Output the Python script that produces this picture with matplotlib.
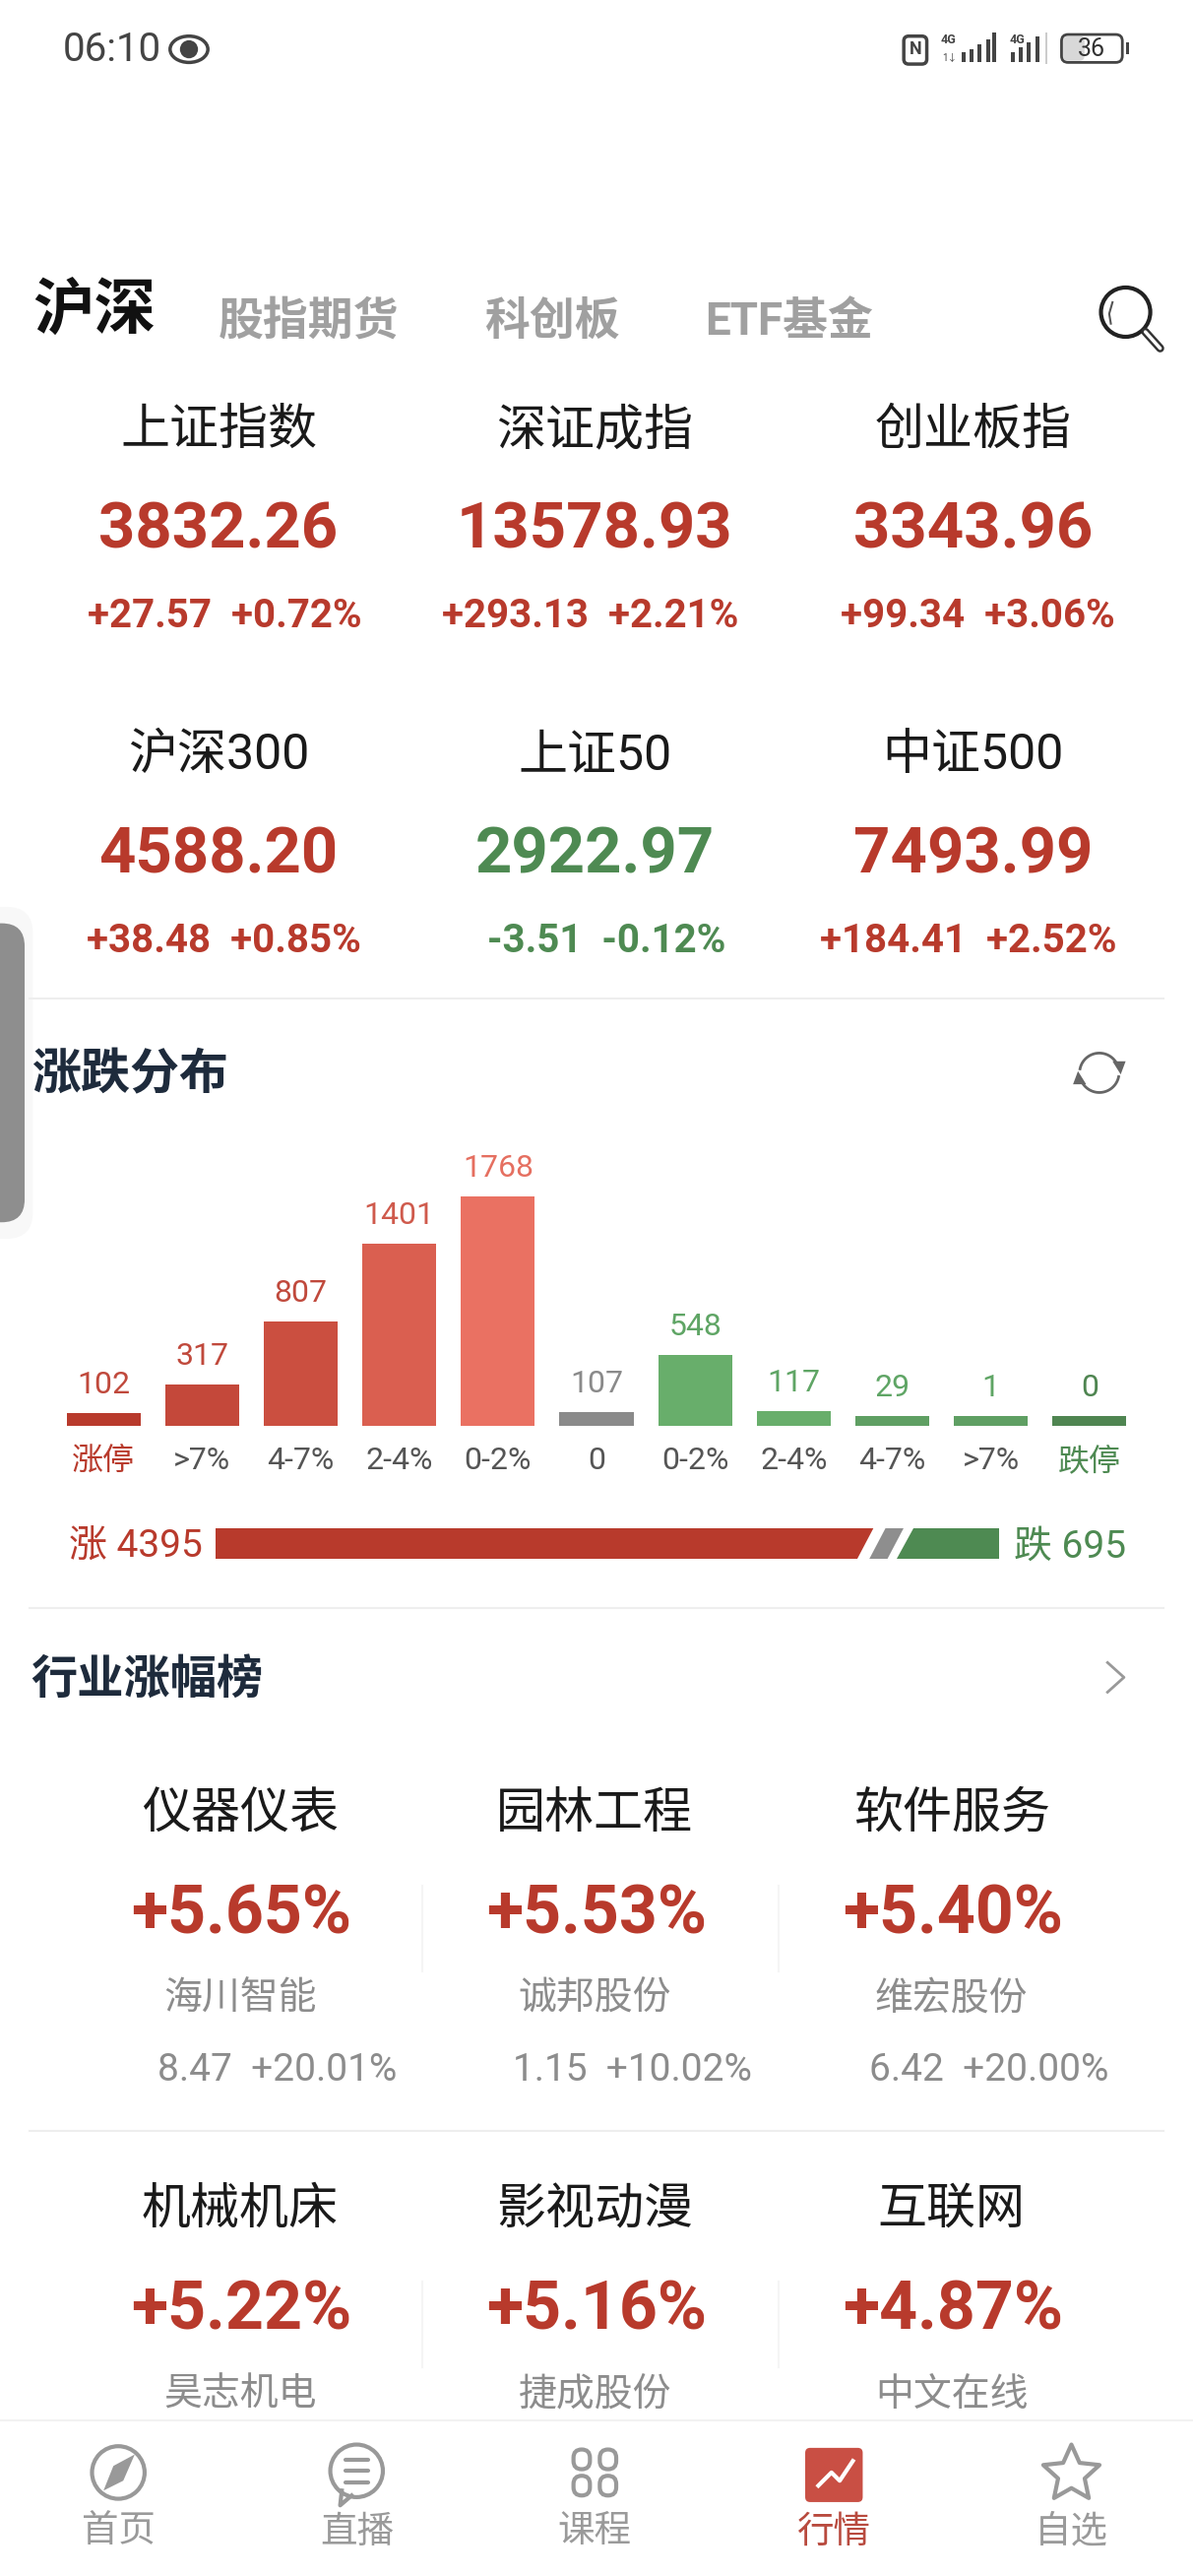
import numpy as np
import matplotlib
matplotlib.use('Agg')
import matplotlib.pyplot as plt
from matplotlib.patches import Circle, FancyBboxPatch, Polygon, Rectangle, Ellipse

plt.rcParams['font.family'] = ['Roboto', 'Noto Sans CJK SC', 'DejaVu Sans']

tabs = ['股指期货', '科创板', 'ETF基金']
index_names = ['上证指数', '深证成指', '创业板指', '沪深300', '上证50', '中证500']
index_vals = ['3832.26', '13578.93', '3343.96', '4588.20', '2922.97', '7493.99']
index_chg = ['+27.57', '+293.13', '+99.34', '+38.48', '-3.51', '+184.41']
index_pct = ['+0.72%', '+2.21%', '+3.06%', '+0.85%', '-0.12%', '+2.52%']

bar_vals = [102, 317, 807, 1401, 1768, 107, 548, 117, 29, 1, 0]
bar_cats = ['涨停', '>7%', '4-7%', '2-4%', '0-2%', '0', '0-2%', '2-4%', '4-7%', '>7%', '跌停']
rise_total = 4395
flat_total = 107
fall_total = 695

sector_names = ['仪器仪表', '园林工程', '软件服务', '机械机床', '影视动漫', '互联网']
sector_pct = ['+5.65%', '+5.53%', '+5.40%', '+5.22%', '+5.16%', '+4.87%']
stock_names = ['海川智能', '诚邦股份', '维宏股份', '昊志机电', '捷成股份', '中文在线']
stock_price = ['8.47', '1.15', '6.42']
stock_pct = ['+20.01%', '+10.02%', '+20.00%']

nav_names = ['首页', '直播', '课程', '行情', '自选']

RED = '#B83A2C'
GREEN = '#4E8A52'
GREY = '#999999'
NAVY = '#1E2B3C'
bar_colors = ['#B83A2C', '#C4483A', '#CB4F40', '#DA5F50', '#EA7162', '#8A8A8A',
              '#68AE6B', '#68AE6B', '#5F9F63', '#5F9F63', '#4F8551']
label_colors = ['#C0493C', '#C0493C', '#C0493C', '#CF5A4C', '#E56F60', '#8A8A8A',
                '#5FA565', '#5FA565', '#5FA565', '#5FA565', '#4F8551']
cat_colors = ['#B83A2C'] + ['#555555'] * 9 + ['#4E8A52']

# layout units: the screen is 726 wide, 1568 high
W, H = 726, 1568
fig = plt.figure(figsize=(12.12, 26.16), dpi=100, facecolor='white')
ax = fig.add_axes([0, 0, 1, 1])
ax.set_xlim(0, W)
ax.set_ylim(H, 0)
ax.axis('off')


def txt(x, y, s, size, color='#1A1A1A', ha='center', weight='normal'):
    # text below the status bar sits a little low in its line box
    if y > 100:
        y = y + 5
    ax.text(x, y, s, fontsize=size, color=color, ha=ha, va='center', fontweight=weight)


# side handle
ax.add_patch(FancyBboxPatch((-30, 552), 50, 202, boxstyle='round,pad=0,rounding_size=16',
                            fc='#F8F8F8', ec='none'))
ax.add_patch(FancyBboxPatch((-30, 562), 45, 182, boxstyle='round,pad=0,rounding_size=14',
                            fc='#8E8E8E', ec='none'))

# status bar
txt(38, 30, '06:10', 29, '#444444', ha='left')
ax.add_patch(Ellipse((115, 30), 23, 16, fc='none', ec='#444444', lw=2.5))
ax.add_patch(Circle((115, 30), 5.5, fc='#444444', ec='none'))
ax.add_patch(FancyBboxPatch((550, 22), 14, 17, boxstyle='round,pad=0,rounding_size=3',
                            fc='none', ec='#444444', lw=2.5))
txt(557, 30, 'N', 13, '#444444', weight='bold')
txt(577, 24, '4G', 9, '#444444', weight='bold')
txt(578, 35, '1↓', 7, '#444444')
for x0, h0 in zip([585, 590, 595, 600, 604], [6, 8, 11, 14, 18]):
    ax.add_patch(Rectangle((x0, 38 - h0), 2.4, h0, fc='#444444', ec='none'))
txt(619, 24, '4G', 9, '#444444', weight='bold')
for x0, h0 in zip([615, 620, 625, 630], [6, 9, 12, 16]):
    ax.add_patch(Rectangle((x0, 38 - h0), 2.4, h0, fc='#444444', ec='none'))
ax.add_patch(Rectangle((636, 20), 1.5, 19, fc='#CCCCCC', ec='none'))
ax.add_patch(FancyBboxPatch((647, 22), 13, 15, boxstyle='round,pad=0,rounding_size=3',
                            fc='#D8D8D8', ec='none'))
ax.add_patch(FancyBboxPatch((646, 21), 37, 17, boxstyle='round,pad=0,rounding_size=4',
                            fc='none', ec='#444444', lw=2))
ax.add_patch(Rectangle((685, 26), 2, 7, fc='#444444', ec='none'))
txt(664, 30, '36', 18, '#333333')

# tabs
txt(20, 185, '沪深', 45, '#111111', ha='left', weight='bold')
for x0, s in zip([133, 295, 429], tabs):
    txt(x0, 191, s, 33, '#A0A0A0', ha='left', weight='bold')
ax.add_patch(Circle((685, 190), 15, fc='none', ec='#222222', lw=3))
ax.plot([697, 706], [202, 212], color='#333333', lw=6, solid_capstyle='round')
ax.plot([697, 706], [202, 212], color='white', lw=2.5, solid_capstyle='round')
ax.plot([676, 675, 677], [197, 191, 184], color='#555555', lw=1.5)

# index cards
chg_shift = [4, -3, 3, 3, 7, -3]
for i in range(6):
    cx = [133, 362, 592][i % 3]
    dy = 198 * (i // 3)
    col = GREEN if index_chg[i].startswith('-') else RED
    txt(cx, 257 + dy, index_names[i], 36)
    txt(cx, 318 + dy, index_vals[i], 47, col, weight='bold')
    txt(cx + chg_shift[i], 370 + dy, index_chg[i] + '  ' + index_pct[i], 29, col, weight='bold')

ax.plot([18, 708], [608, 608], color='#EEEEEE', lw=1.5)
txt(19, 650, '涨跌分布', 36, NAVY, ha='left', weight='bold')
# refresh icon
t = np.linspace(0.2, 2.8, 40)
ax.plot(669 + 12 * np.cos(t), 653 + 12 * np.sin(t), color='#666666', lw=2)
ax.plot(669 - 12 * np.cos(t), 653 - 12 * np.sin(t), color='#666666', lw=2)
ax.add_patch(Polygon([[677, 646], [685, 646], [682, 654]], fc='#666666', ec='none'))
ax.add_patch(Polygon([[661, 660], [653, 660], [656, 652]], fc='#666666', ec='none'))

# distribution bars, short ones keep a minimum height like the app does
ax_bar = fig.add_axes([33 / W, 1 - 868 / H, 660 / W, 178 / H])
ax_bar.patch.set_alpha(0)
xs = np.arange(len(bar_vals))
heights = np.maximum(bar_vals, 80)
ax_bar.bar(xs, heights, width=0.75, color=bar_colors)
ax_bar.set_xlim(-0.5, 10.5)
ax_bar.set_ylim(0, 2248)
for s in ax_bar.spines.values():
    s.set_visible(False)
ax_bar.set_yticks([])
ax_bar.set_xticks(xs)
ax_bar.set_xticklabels(bar_cats, fontsize=23)
ax_bar.tick_params(axis='x', length=0, pad=15)
for lab, c in zip(ax_bar.get_xticklabels(), cat_colors):
    lab.set_color(c)
for x0, h0, v, c in zip(xs, heights, bar_vals, label_colors):
    ax_bar.annotate(str(v), (x0, h0), xytext=(0, 10), textcoords='offset points',
                    ha='center', va='bottom', fontsize=23, color=c)

# rise / fall strip
ax_ratio = fig.add_axes([131 / W, 1 - 949 / H, 477 / W, 19 / H])
ax_ratio.patch.set_alpha(0)
ax_ratio.axis('off')
total = rise_total + flat_total + fall_total
ax_ratio.set_xlim(0, total)
ax_ratio.set_ylim(0, 1)
slant = 109
ax_ratio.add_patch(Polygon([[0, 0], [rise_total - 30 - slant, 0], [rise_total - 30, 1], [0, 1]], fc=RED, ec='none'))
gx = rise_total - 59
ax_ratio.add_patch(Polygon([[gx, 0], [gx + 120, 0], [gx + 120 + slant, 1], [gx + slant, 1]], fc='#8E8E8E', ec='none'))
fx = total - fall_total + 19
ax_ratio.add_patch(Polygon([[fx, 0], [total, 0], [total, 1], [fx + slant, 1]], fc=GREEN, ec='none'))
txt(42, 937, '涨 %d' % rise_total, 28, RED, ha='left')
txt(617, 937, '跌 %d' % fall_total, 28, GREEN, ha='left')

ax.plot([18, 708], [979, 979], color='#EEEEEE', lw=1.5)
txt(19, 1018, '行业涨幅榜', 34, NAVY, ha='left', weight='bold')
ax.plot([674, 684, 674], [1012, 1021, 1030], color='#999999', lw=2)

# sector cards
for i in range(6):
    cx = [146, 362, 579][i % 3]
    dy = 241 * (i // 3)
    txt(cx, 1099 + dy, sector_names[i], 36)
    txt(cx + 1, 1161 + dy, sector_pct[i], 49, RED, weight='bold')
    txt(cx, 1212 + dy, stock_names[i], 28, '#8C8C8C')
    if i < 3:
        txt(cx + 23, 1255, stock_price[i] + '  ' + stock_pct[i], 28, '#8C8C8C')
for dy in [0, 241]:
    for x0 in [257, 474]:
        ax.plot([x0, x0], [1148 + dy, 1200 + dy], color='#F5F5F5', lw=1.5)
ax.plot([18, 708], [1297, 1297], color='#EEEEEE', lw=1.5)

# bottom nav
ax.add_patch(Rectangle((0, 1473), W, H - 1473, fc='white', ec='none', zorder=3))
ax.plot([0, W], [1473, 1473], color='#F2F2F2', lw=1.5, zorder=3)
nav_x = [72, 217, 362, 507, 652]
for x0, s in zip(nav_x, nav_names):
    ax.text(x0, 1541, s, fontsize=27, ha='center', va='center', zorder=4,
            color='#B84A3E' if s == '行情' else '#9A9A9A')
# compass
ax.add_patch(Circle((72, 1505), 16, fc='none', ec=GREY, lw=3, zorder=4))
ax.add_patch(Polygon([[82, 1494], [75, 1510], [63, 1516], [69, 1501]], fc=GREY, ec='none', zorder=4))
# chat
ax.add_patch(Circle((217, 1504), 16, fc='none', ec=GREY, lw=3, zorder=4))
ax.plot([208, 207, 214], [1516, 1525, 1519], color=GREY, lw=3, zorder=4)
for y0 in [1497, 1504, 1511]:
    ax.plot([210, 224], [y0, y0], color=GREY, lw=3, solid_capstyle='round', zorder=4)
# course
for x0, y0 in [(354, 1497), (370, 1497), (354, 1513), (370, 1513)]:
    ax.add_patch(FancyBboxPatch((x0 - 5, y0 - 6), 10, 12, boxstyle='round,pad=0,rounding_size=5',
                                fc='none', ec=GREY, lw=3, zorder=4))
# market
ax.add_patch(FancyBboxPatch((490, 1490), 35, 33, boxstyle='round,pad=0,rounding_size=3',
                            fc='#C94F44', ec='none', zorder=4))
ax.plot([498, 506, 511, 519], [1513, 1505, 1510, 1498], color='white', lw=3, zorder=5)
# star
ang = np.arange(11) * np.pi / 5 - np.pi / 2
rad = np.array([18, 8.5] * 5 + [18])
ax.add_patch(Polygon(np.c_[652 + rad * np.cos(ang), 1506 + rad * np.sin(ang)], fc='none', ec=GREY,
                     lw=3, joinstyle='round', zorder=4))

fig.savefig('out.png', dpi=100, facecolor='white')
